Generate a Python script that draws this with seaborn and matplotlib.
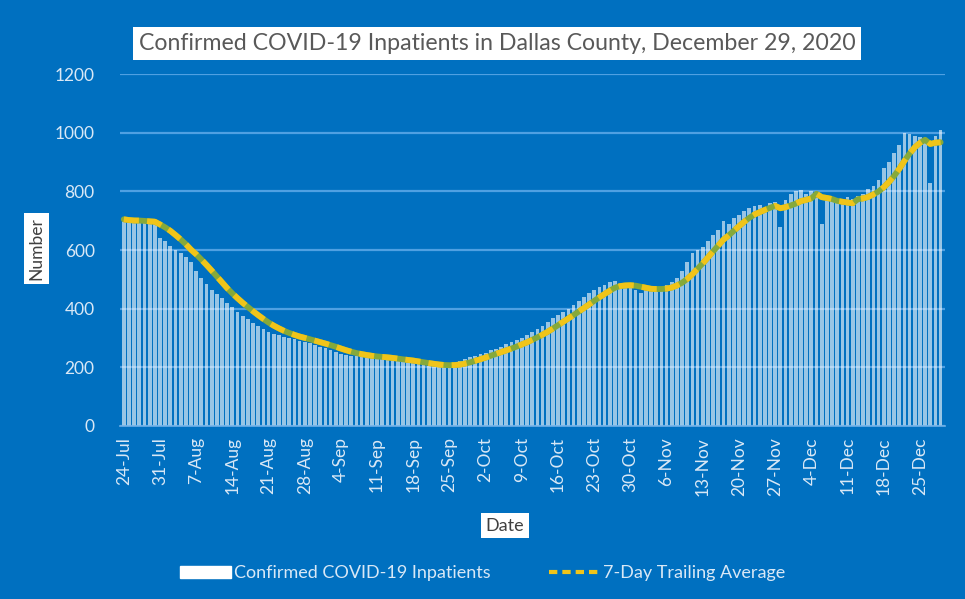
import numpy as np
import pandas as pd
import matplotlib
matplotlib.use('Agg')
import matplotlib.pyplot as plt
from matplotlib.patches import Patch
from matplotlib.lines import Line2D
import seaborn as sns

# daily confirmed inpatients, 24-Jul .. 29-Dec 2020
inpatients = [
    705, 700, 698, 700, 695, 690, 690,
    640, 630, 615, 600, 590, 575, 560,
    530, 505, 485, 465, 450, 435, 420,
    405, 390, 375, 365, 350, 340, 330,
    320, 315, 310, 305, 300, 295, 290,
    288, 282, 276, 270, 265, 258, 252,
    245, 242, 240, 238, 240, 236, 233,
    230, 232, 228, 225, 222, 220, 218,
    215, 212, 208, 205, 205, 203, 207,
    210, 215, 220, 228, 235, 240, 245,
    250, 258, 262, 270, 278, 285, 292,
    300, 310, 320, 330, 342, 355, 368,
    380, 390, 400, 412, 425, 440, 455,
    465, 475, 480, 490, 495, 480, 470,
    470, 465, 455, 465, 470, 475, 470,
    480, 490, 505, 530, 560, 590, 600,
    610, 630, 650, 670, 700, 690, 710,
    720, 735, 745, 750, 755, 745, 760,
    765, 680, 770, 790, 800, 805, 790,
    800, 790, 690, 770, 775, 760, 770,
    780, 775, 785, 790, 810, 820, 840,
    880, 900, 930, 960, 1000, 995, 990,
    985, 975, 830, 990, 1010,
]
dates = pd.date_range('2020-07-24', periods=len(inpatients), freq='D')
tick_labels = ['24-Jul', '31-Jul', '7-Aug', '14-Aug', '21-Aug', '28-Aug', '4-Sep',
               '11-Sep', '18-Sep', '25-Sep', '2-Oct', '9-Oct', '16-Oct', '23-Oct',
               '30-Oct', '6-Nov', '13-Nov', '20-Nov', '27-Nov', '4-Dec', '11-Dec',
               '18-Dec', '25-Dec']

df = pd.DataFrame({'date': dates, 'count': inpatients})
df['day'] = np.arange(len(df))
df['avg'] = df['count'].rolling(7, min_periods=1).mean()

bg = '#0070C0'
light = '#D9E8F6'

sns.set_style('white')
plt.rcParams['font.family'] = ['Lato', 'DejaVu Sans']

fig = plt.figure(figsize=(9.65, 5.99), dpi=100, facecolor=bg)
ax = fig.add_axes([0.124, 0.289, 0.855, 0.587])
ax.set_facecolor(bg)

sns.barplot(data=df, x='day', y='count', color='white', alpha=0.6,
            width=0.72, linewidth=0, saturation=1, ax=ax, zorder=2)
ax.plot(df['day'], df['avg'], color='#86A93A', lw=4.2, zorder=3,
        solid_capstyle='round')
ax.plot(df['day'], df['avg'], color='#F0C419', lw=4.2, zorder=4,
        dashes=(2.6, 1.4))

ax.set_ylim(0, 1200)
ax.set_xlim(-0.8, len(df) - 0.2)
ax.set_yticks(range(0, 1201, 200))
ax.yaxis.grid(True, color='#4FA0E2', lw=1.6)
ax.set_axisbelow(True)
for s in ['top', 'right', 'left']:
    ax.spines[s].set_visible(False)
ax.spines['bottom'].set_color('#6FB0E8')
ax.spines['bottom'].set_linewidth(1.2)

week_pos = df['day'].values[::7]
ax.set_xticks(week_pos)
ax.set_xticklabels(tick_labels, rotation=90)
ax.tick_params(axis='x', colors='#6FB0E8', length=4, labelcolor=light,
               labelsize=12.5, pad=4)
ax.tick_params(axis='y', length=0, labelcolor=light, labelsize=12.5, pad=18)
ax.set_xlabel('')
ax.set_ylabel('')

box = dict(boxstyle='square,pad=0.25', facecolor='white', edgecolor='none')
fig.text(0.515, 0.927, 'Confirmed COVID-19 Inpatients in Dallas County, December 29, 2020',
         ha='center', va='center', fontsize=16.7, color='#595959',
         bbox=dict(boxstyle='square,pad=0.25', facecolor='white', edgecolor='none'))
fig.text(0.038, 0.585, 'Number', rotation=90, ha='center', va='center',
         fontsize=12.5, color='#404040', bbox=box)
fig.text(0.523, 0.122, 'Date', ha='center', va='center',
         fontsize=13, color='#404040', bbox=box)

handles = [Patch(facecolor='white', edgecolor='white'),
           Line2D([0], [0], color='#F0C419', lw=3, dashes=(2, 1.2))]
leg = fig.legend(handles, ['Confirmed COVID-19 Inpatients', '7-Day Trailing Average'],
                 loc='center', bbox_to_anchor=(0.5, 0.043), ncol=2, frameon=False,
                 fontsize=13, handlelength=2.8, handletextpad=0.2, columnspacing=3.2)
for t in leg.get_texts():
    t.set_color(light)

fig.savefig('out.png', dpi=100, facecolor=bg)
